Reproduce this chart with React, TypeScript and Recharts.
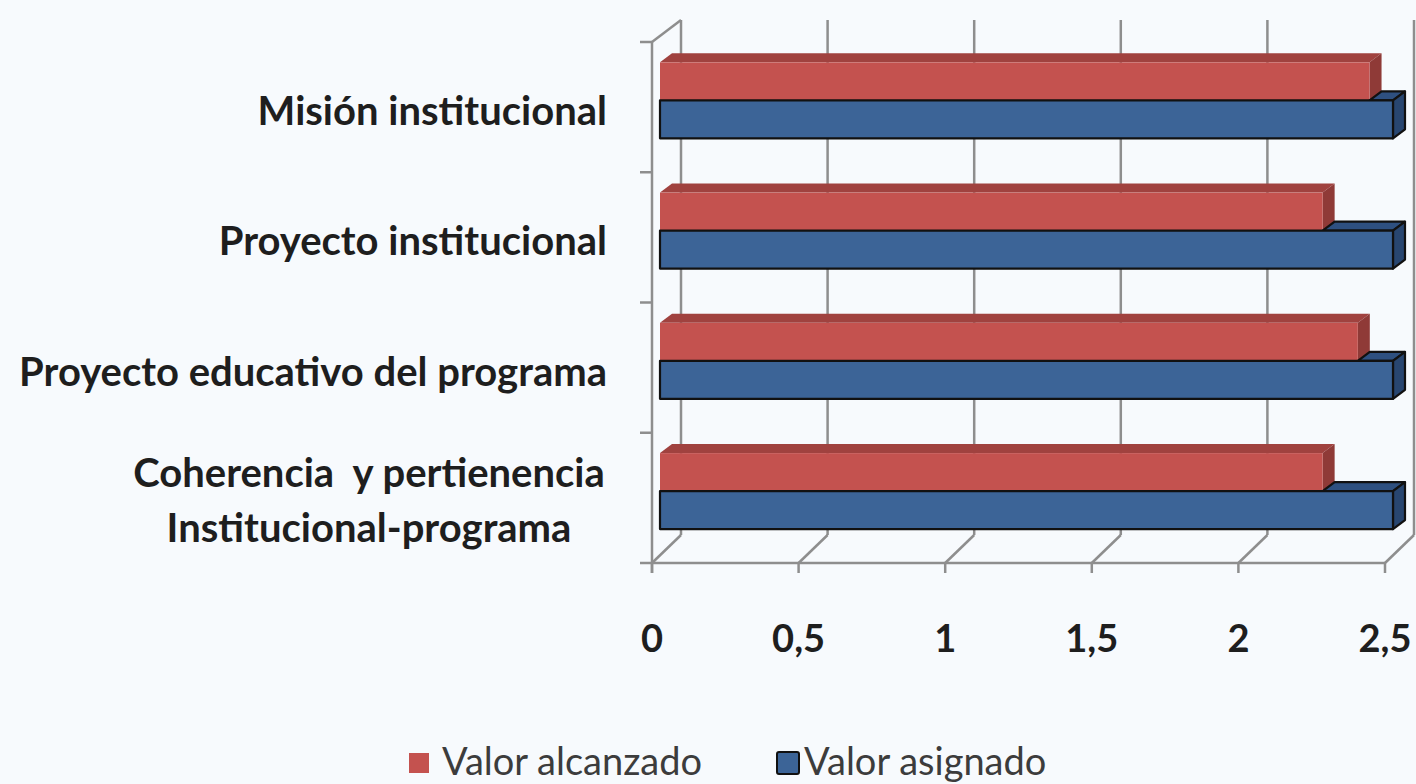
import React from 'react';
import { BarChart, Bar, XAxis, YAxis, CartesianGrid, Legend } from 'recharts';

// ---- data ----
const categories = [
  'Misión institucional',
  'Proyecto institucional',
  'Proyecto educativo del programa',
  'Coherencia  y pertienencia\nInstitucional-programa',
];
const valorAlcanzado = [2.42, 2.26, 2.38, 2.26];
const valorAsignado = [2.5, 2.5, 2.5, 2.5];
const xTicks = [0, 0.5, 1, 1.5, 2, 2.5];
const seriesNames = ['Valor alcanzado', 'Valor asignado'];

const data = categories.map((c, i) => ({
  name: c,
  alcanzado: valorAlcanzado[i],
  asignado: valorAsignado[i],
}));

// ---- layout ----
const W = 1416;
const H = 784;
const PLOT_LEFT = 660;
const PLOT_RIGHT = 1393;
const PLOT_TOP = 35;
const PLOT_BOTTOM = 556;
const PLOT_W = PLOT_RIGHT - PLOT_LEFT;
const PLOT_H = PLOT_BOTTOM - PLOT_TOP;
const X_AXIS_H = 100;
const BAND = PLOT_H / categories.length;

// depth offsets
const FRONT_DX = -8;
const FRONT_DY = 7;
const BACK_DX = 21;
const DX = 12;
const DY = 9;

const BG = '#f7fafd';
const GRID = '#8e8e8e';
const RED = '#c4524f';
const RED_TOP = '#a0423f';
const RED_SIDE = '#8f3a37';
const BLUE = '#3c6497';
const BLUE_TOP = '#2e5080';
const BLUE_SIDE = '#284670';
const OUTLINE = '#111';
const FONT = 'Lato, "Open Sans", sans-serif';

const RedShape = (p: any) => {
  const { x, y, width: w, height: h } = p;
  if (w == null || h == null) return null;
  return (
    <g>
      <polygon points={`${x},${y} ${x + w},${y} ${x + w + DX},${y - DY} ${x + DX},${y - DY}`} fill={RED_TOP} />
      <polygon points={`${x + w},${y} ${x + w + DX},${y - DY} ${x + w + DX},${y + h - DY} ${x + w},${y + h}`} fill={RED_SIDE} />
      <rect x={x} y={y} width={w} height={h} fill={RED} />
    </g>
  );
};

const BlueShape = (p: any) => {
  const { x, y, width: w, height: h, payload } = p;
  if (w == null || h == null) return null;
  const rw = (w * payload.alcanzado) / payload.asignado;
  return (
    <g stroke={OUTLINE} strokeWidth={2.2} strokeLinejoin="round">
      <polygon points={`${x + rw},${y} ${x + w},${y} ${x + w + DX},${y - DY} ${x + rw + DX},${y - DY}`} fill={BLUE_TOP} />
      <polygon points={`${x + w},${y} ${x + w + DX},${y - DY} ${x + w + DX},${y + h - DY} ${x + w},${y + h}`} fill={BLUE_SIDE} />
      <rect x={x} y={y} width={w} height={h} fill={BLUE} />
    </g>
  );
};

const VerticalLine = (p: any) => {
  const { x1, index } = p;
  const fx = x1 + FRONT_DX;
  const bx = x1 + BACK_DX;
  const topBack = PLOT_TOP - 15;
  const botBack = PLOT_BOTTOM - 21;
  const botFront = PLOT_BOTTOM + FRONT_DY;
  const wallTicks = categories.map((_, k) => PLOT_TOP + FRONT_DY + k * BAND);
  return (
    <g key={`v-${index}`} stroke={GRID} strokeWidth={2.5} fill="none">
      <line x1={bx} y1={topBack} x2={bx} y2={botBack} />
      <line x1={bx} y1={botBack} x2={fx} y2={botFront} />
      <line x1={fx} y1={botFront} x2={fx} y2={botFront + 10} />
      {index === 0 && (
        <>
          <line x1={fx - 12} y1={botFront} x2={fx + PLOT_W} y2={botFront} />
          <line x1={fx} y1={PLOT_TOP + FRONT_DY} x2={fx} y2={botFront + 10} />
          <line x1={fx} y1={PLOT_TOP + FRONT_DY} x2={bx} y2={topBack} />
          {wallTicks.map((ty, k) => (
            <line key={k} x1={fx - 12} y1={ty} x2={fx} y2={ty} />
          ))}
        </>
      )}
    </g>
  );
};

const CatTick = (p: any) => {
  const { y, payload } = p;
  const lines = String(payload.value).split('\n');
  const right = PLOT_LEFT - 53;
  if (lines.length === 1) {
    return (
      <text x={right} y={y + 25} textAnchor="end" fontFamily={FONT} fontWeight={700} fontSize={40} fill="#1e1e1e" style={{ whiteSpace: 'pre' }}>
        {lines[0]}
      </text>
    );
  }
  return (
    <text textAnchor="middle" fontFamily={FONT} fontWeight={700} fontSize={40} fill="#1e1e1e" style={{ whiteSpace: 'pre' }}>
      <tspan x={right - 238} y={y - 4}>{lines[0]}</tspan>
      <tspan x={right - 238} y={y + 51}>{lines[1]}</tspan>
    </text>
  );
};

const NumTick = (p: any) => {
  const { x, payload } = p;
  return (
    <text x={x + FRONT_DX} y={PLOT_BOTTOM + 96} textAnchor="middle" fontFamily={FONT} fontWeight={700} fontSize={38} fill="#1e1e1e">
      {String(payload.value).replace('.', ',')}
    </text>
  );
};

const LegendContent = (p: any) => {
  const items = p.payload || [];
  return (
    <div style={{ display: 'flex', alignItems: 'center', marginLeft: 409, fontFamily: FONT, fontSize: 38, color: '#3c3c3c', lineHeight: '42px' }}>
      {items.map((it: any, i: number) => (
        <div key={i} style={{ display: 'flex', alignItems: 'center', marginRight: 74 }}>
          <span
            style={{
              display: 'inline-block',
              width: 20,
              height: 20,
              background: it.color,
              border: i === 0 ? 'none' : `2.5px solid ${OUTLINE}`,
              borderRadius: i === 0 ? 0 : 3,
              marginRight: i === 0 ? 13 : 4,
              marginTop: 5,
            }}
          />
          <span>{it.value}</span>
        </div>
      ))}
    </div>
  );
};

export default function App() {
  return (
    <div style={{ position: 'absolute', left: 0, top: 0, width: W, height: H, background: BG, overflow: 'hidden' }}>
      <BarChart
        width={W}
        height={H}
        data={data}
        layout="vertical"
        margin={{ top: PLOT_TOP, right: W - PLOT_RIGHT, left: 0, bottom: H - PLOT_BOTTOM - X_AXIS_H }}
        barCategoryGap="21%"
        barGap={0}
      >
        <CartesianGrid vertical={VerticalLine} horizontal={false} fill="none" />
        <XAxis
          type="number"
          domain={[0, 2.5]}
          ticks={xTicks}
          height={X_AXIS_H}
          axisLine={false}
          tickLine={false}
          tick={NumTick}
          interval={0}
        />
        <YAxis
          type="category"
          dataKey="name"
          width={PLOT_LEFT}
          axisLine={false}
          tickLine={false}
          tick={CatTick}
          interval={0}
        />
        <Legend
          verticalAlign="middle"
          align="center"
          layout="horizontal"
          wrapperStyle={{ top: 739, left: 0, width: W, height: 42 }}
          content={LegendContent}
        />
        <Bar dataKey="alcanzado" name={seriesNames[0]} fill={RED} shape={RedShape} isAnimationActive={false} />
        <Bar dataKey="asignado" name={seriesNames[1]} fill={BLUE} shape={BlueShape} isAnimationActive={false} />
      </BarChart>
    </div>
  );
}
